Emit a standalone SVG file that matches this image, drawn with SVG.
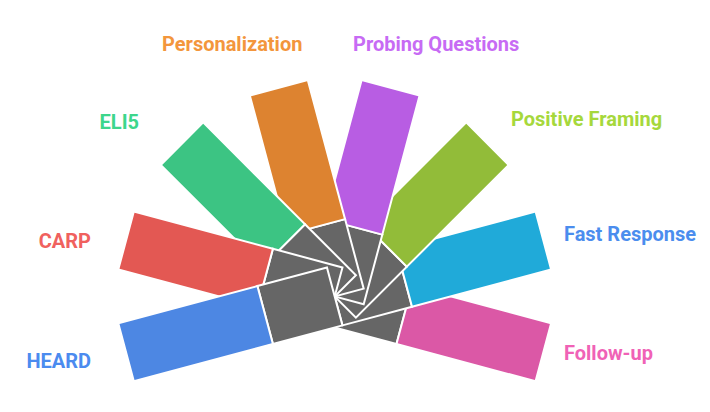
<svg xmlns="http://www.w3.org/2000/svg" width="710" height="412" viewBox="0 0 710 412">
  <style>
    .seg { stroke: #ffffff; stroke-width: 2; stroke-linejoin: miter; }
    .core { fill: #666666; }
    .lbl { font-family: Roboto, "Liberation Sans", Arial, sans-serif; font-size: 20px; font-weight: 700; }
  </style>
  <defs>
    <rect id="coreRect" class="seg core" x="0" y="-30" width="72" height="60"/>
  </defs>
  <rect width="710" height="412" fill="#ffffff"/>

  <g id="follow-up">
    <g transform="translate(334.7,296.4) rotate(15)">
      <use href="#coreRect"/>
      <rect class="seg" x="72" y="-30" width="144" height="60" fill="#DB58A6"/>
    </g>
    <text class="lbl" x="564" y="360" fill="#F062B6">Follow-up</text>
  </g>

  <g id="fast-response">
    <g transform="translate(334.7,296.4) rotate(-15)">
      <use href="#coreRect"/>
      <rect class="seg" x="72" y="-30" width="144" height="60" fill="#20AAD9"/>
    </g>
    <text class="lbl" x="564" y="241" fill="#4B8DEE">Fast Response</text>
  </g>

  <g id="positive-framing">
    <g transform="translate(334.7,296.4) rotate(-45)">
      <use href="#coreRect"/>
      <rect class="seg" x="72" y="-30" width="144" height="60" fill="#92BC39"/>
    </g>
    <text class="lbl" x="511" y="126" fill="#A6D83C">Positive Framing</text>
  </g>

  <g id="probing-questions">
    <g transform="translate(334.7,296.4) rotate(-75)">
      <use href="#coreRect"/>
      <rect class="seg" x="72" y="-30" width="144" height="60" fill="#B85DE3"/>
    </g>
    <text class="lbl" x="353" y="51" fill="#C76BF4">Probing Questions</text>
  </g>

  <g id="personalization">
    <g transform="translate(334.7,296.4) rotate(-105)">
      <use href="#coreRect"/>
      <rect class="seg" x="72" y="-30" width="144" height="60" fill="#DD8330"/>
    </g>
    <text class="lbl" x="162" y="51" fill="#F3963C">Personalization</text>
  </g>

  <g id="eli5">
    <g transform="translate(334.7,296.4) rotate(-135)">
      <use href="#coreRect"/>
      <rect class="seg" x="72" y="-30" width="144" height="60" fill="#3CC483"/>
    </g>
    <text class="lbl" x="139" y="129" text-anchor="end" fill="#3DD68C">ELI5</text>
  </g>

  <g id="carp">
    <g transform="translate(334.7,296.4) rotate(-165)">
      <use href="#coreRect"/>
      <rect class="seg" x="72" y="-30" width="144" height="60" fill="#E35853"/>
    </g>
    <text class="lbl" x="91" y="248" text-anchor="end" fill="#F0615E">CARP</text>
  </g>

  <g id="heard">
    <g transform="translate(334.7,296.4) rotate(165)">
      <use href="#coreRect"/>
      <rect class="seg" x="72" y="-30" width="144" height="60" fill="#4D87E3"/>
    </g>
    <text class="lbl" x="91" y="368" text-anchor="end" fill="#4B8BEF">HEARD</text>
  </g>

  <g id="connectors"/>
</svg>
